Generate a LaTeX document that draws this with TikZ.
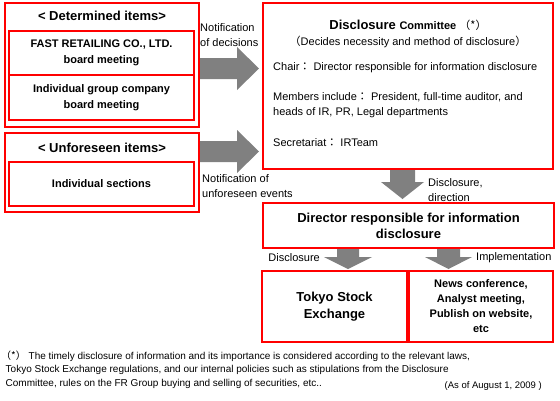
\documentclass[tikz,border=0pt]{standalone}
\usepackage{fontspec}
\setmainfont{Liberation Sans}
\newfontfamily\cjk{Noto Sans CJK JP}
\newcommand{\fw}[1]{{\cjk #1}}
\definecolor{arrowgray}{RGB}{128,128,128}
\tikzset{
  redbox/.style={draw=red, line width=1.1pt, inner sep=0pt},
  grayarrow/.style={fill=arrowgray, draw=none},
  headtext/.style={font=\fontsize{13}{15}\selectfont\bfseries, inner sep=0pt},
  boxtext/.style={font=\fontsize{11}{16.5}\selectfont\bfseries, align=center},
  plaintext/.style={font=\fontsize{11}{15}\selectfont, inner sep=0pt},
}
\begin{document}
\begin{tikzpicture}[x=1pt,y=-1pt]
    \useasboundingbox (0,0) rectangle (560,400);
    \fill[white] (0,0) rectangle (560,400);
    % block arrows
    \draw[grayarrow] (199,58) -- (237,58) -- (237,47) -- (259,68.5) -- (237,90) -- (237,79) -- (199,79) --cycle;
    \draw[grayarrow] (199,141) -- (237,141) -- (237,130) -- (259,151.5) -- (237,173) -- (237,162) -- (199,162) --cycle;
    \draw[grayarrow] (390,169) -- (415,169) -- (415,182) -- (424,182) -- (402.5,199) -- (381,182) -- (390,182) --cycle;
    \draw[grayarrow] (337,248) -- (359,248) -- (359,257) -- (372,257) -- (348,269) -- (324,257) -- (337,257) --cycle;
    \draw[grayarrow] (437,248) -- (460,248) -- (460,257) -- (472,257) -- (448.5,269) -- (425,257) -- (437,257) --cycle;
    % determined items
    \node[redbox, minimum width=194pt, minimum height=124pt] (determined) at (102,65) {};
    \node[headtext] (detheader) at (102,16) {< Determined items>};
    \node[redbox, boxtext, minimum width=185pt, minimum height=44pt] (fastretailing) at (101.5,53) {FAST RETAILING CO., LTD.\\board meeting};
    \node[redbox, boxtext, minimum width=185pt, minimum height=45pt] (groupboard) at (101.5,97.5) {Individual group company\\board meeting};
    % unforeseen items
    \node[redbox, minimum width=194pt, minimum height=79pt] (unforeseen) at (102,172.5) {};
    \node[headtext] (unfheader) at (102,148) {< Unforeseen items>};
    \node[redbox, boxtext, minimum width=185pt, minimum height=44pt] (sections) at (101.5,184) {Individual sections};
    \node[plaintext, anchor=west, align=left] (notedecisions) at (200,35.5) {Notification\\of decisions};
    \node[plaintext, anchor=west, align=left] (noteevents) at (202,186.5) {Notification of\\unforeseen events};
    % committee
    \node[redbox, minimum width=290pt, minimum height=166pt] (committee) at (408,86) {};
    \node[inner sep=0pt] (committeetitle) at (408,25) {\fontsize{13}{15}\selectfont\bfseries Disclosure \fontsize{11}{13}\selectfont Committee \mdseries\fw{（*）}};
    \node[plaintext] (committeerole) at (408,42) {\fw{（}Decides necessity and method of disclosure\fw{）}};
    \node[plaintext, anchor=west] (chair) at (273,68) {Chair\fw{：}\ Director responsible for information disclosure};
    \node[plaintext, anchor=west, align=left] (members) at (273,105.5) {Members include\fw{：}\ President, full-time auditor,\ and\\heads of IR, PR, Legal departments};
    \node[plaintext, anchor=west] (secretariat) at (273,143) {Secretariat\fw{：}\ IRTeam};
    \node[plaintext, anchor=west, align=left] (notedirection) at (428,190) {Disclosure,\\direction};
    % director
    \node[redbox, font=\fontsize{13}{16}\selectfont\bfseries, align=center, minimum width=291pt, minimum height=45pt] (director) at (408.5,225.5) {Director responsible for information\\disclosure};
    \node[plaintext, anchor=east] (notedisclosure) at (320,258) {Disclosure};
    \node[plaintext, anchor=west] (noteimpl) at (476,258) {Implementation};
    % outputs
    \node[redbox, font=\fontsize{13}{17}\selectfont\bfseries, align=center, minimum width=145pt, minimum height=71pt] (tokyo) at (334.5,306.5) {Tokyo Stock\\Exchange};
    \node[redbox, font=\fontsize{11}{15}\selectfont\bfseries, align=center, minimum width=144pt, minimum height=71pt] (news) at (481,306.5) {News conference,\\Analyst meeting,\\Publish on website,\\etc};
    % footnote
    \node[inner sep=0pt, anchor=west, align=left, font=\fontsize{10}{13.5}\selectfont] (footnote) at (5.5,369.5) {\hspace*{-4.5pt}\fw{（*）}\ The timely disclosure of information and its importance is considered according to the relevant laws,\\Tokyo Stock Exchange regulations, and our internal policies such as stipulations from the Disclosure\\Committee, rules on the FR Group buying and selling of securities, etc..};
    \node[inner sep=0pt, anchor=east, font=\fontsize{9.5}{11}\selectfont] (asof) at (542,386) {(As of August 1, 2009 )};
\end{tikzpicture}
\end{document}
